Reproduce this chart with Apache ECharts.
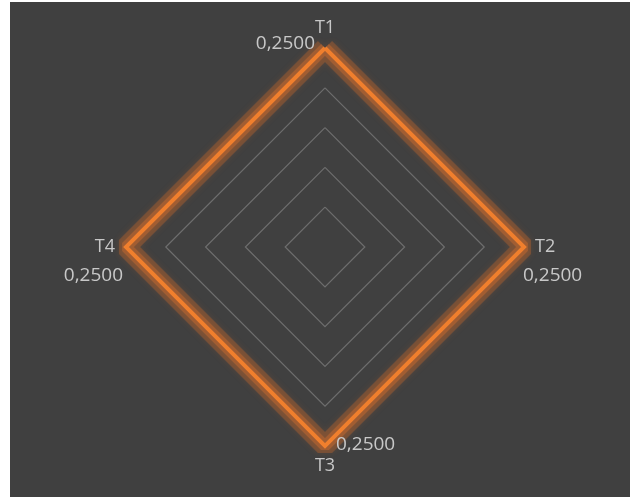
<!DOCTYPE html>
<html>
<head>
<meta charset="utf-8">
<script src="https://cdn.jsdelivr.net/npm/echarts@6/dist/echarts.min.js"></script>
<style>
  html, body { margin: 0; padding: 0; background: #ffffff; width: 630px; height: 501px; overflow: hidden; }
  #chart { position: absolute; left: 10px; top: 2px; width: 620px; height: 495px; }
</style>
</head>
<body>
<div id="chart"></div>
<script>
const categories = ['T1', 'T2', 'T3', 'T4'];
const values = [0.25, 0.25, 0.25, 0.25];
const axisMax = 0.25;

// ECharts radar lays indicators out counter-clockwise; reorder so T1 top, T2 right, T3 bottom, T4 left
const order = [0, 3, 2, 1];
const indicators = order.map(i => ({ name: categories[i], min: 0, max: axisMax }));
const orderedValues = order.map(i => values[i]);

const fmt = v => v.toFixed(4).replace('.', ',');
const labelColor = '#c8c8c8';
const fontFamily = '"Open Sans", "Noto Sans", sans-serif';

// label placement per vertex (index in ordered dims)
const labelCfg = [
  { dim: 0, position: 'left', distance: 9, offset: [0, -4], align: 'right' },                    // T1
  { dim: 3, position: [0, 30], align: 'left', verticalAlign: 'middle' },                         // T2
  { dim: 2, position: [12, 0], align: 'left', verticalAlign: 'middle' },                         // T3
  { dim: 1, position: [-2, 30], align: 'right', verticalAlign: 'middle' }                        // T4
];

const labelItems = labelCfg.map(c => ({
  value: orderedValues,
  symbol: 'circle',
  symbolSize: 2,
  itemStyle: { color: 'rgba(0,0,0,0)', borderWidth: 0 },
  lineStyle: { opacity: 0, width: 0 },
  label: {
    show: true,
    position: c.position,
    distance: c.distance || 0,
    offset: c.offset || [0, 0],
    align: c.align,
    verticalAlign: c.verticalAlign || 'middle',
    color: labelColor,
    fontSize: 19,
    fontFamily: fontFamily,
    formatter: p => (p.dimensionIndex === c.dim ? fmt(p.value) : '')
  }
}));

const chart = echarts.init(document.getElementById('chart'), null, { renderer: 'canvas' });
chart.setOption({
  backgroundColor: '#404040',
  animation: false,
  radar: {
    center: [315, 245],
    radius: 199,
    startAngle: 90,
    splitNumber: 5,
    shape: 'polygon',
    indicator: indicators,
    nameGap: 11,
    axisName: { color: labelColor, fontSize: 18, fontFamily: fontFamily },
    axisLine: { show: false },
    axisTick: { show: false },
    axisLabel: { show: false },
    splitArea: { show: false },
    splitLine: { lineStyle: { color: '#6e6e6e', width: 1.2 } }
  },
  series: [{
    type: 'radar',
    silent: true,
    data: [
      {
        value: orderedValues,
        symbol: 'none',
        lineStyle: { color: 'rgba(220,110,40,0.3)', width: 20, join: 'bevel',
                     shadowBlur: 6, shadowColor: 'rgba(220,110,40,0.5)' }
      },
      {
        value: orderedValues,
        symbol: 'none',
        lineStyle: { color: 'rgba(230,118,45,0.35)', width: 11, join: 'bevel' }
      },
      {
        value: orderedValues,
        symbol: 'none',
        lineStyle: { color: '#F07F2D', width: 4, join: 'miter' }
      }
    ].concat(labelItems)
  }]
});
</script>
</body>
</html>
